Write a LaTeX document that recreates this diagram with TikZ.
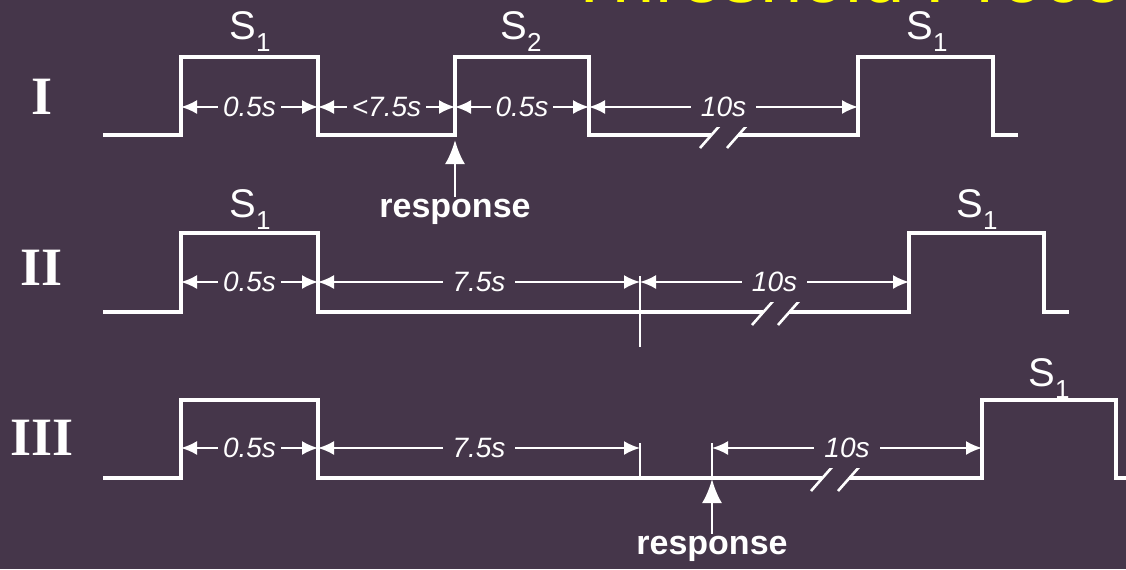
\documentclass[tikz,border=0pt]{standalone}
\usepackage{fontspec}
\setmainfont{Liberation Serif}
\setsansfont{Liberation Sans}
\usetikzlibrary{arrows.meta}

\definecolor{bgpurple}{RGB}{69,54,74}
\definecolor{titleyellow}{RGB}{255,255,0}

\newcommand{\stim}[1]{S\raisebox{-0.3em}{\fontsize{13}{13}\selectfont #1}}

\tikzset{
  wave/.style={draw=white, line width=1.6pt, line join=miter},
  dim/.style={draw=white, line width=1pt, {Latex[length=8pt,width=7pt]}-{Latex[length=8pt,width=7pt]}},
  dimlabel/.style={fill=bgpurple, text=white, inner sep=2.5pt, font=\sffamily\itshape\fontsize{14}{14}\selectfont},
  stimlabel/.style={text=white, inner sep=0pt, anchor=base west, font=\sffamily\fontsize{20}{20}\selectfont},
  rowlabel/.style={text=white, inner sep=0pt, font=\bfseries\fontsize{27}{27}\selectfont},
  resp/.style={draw=white, line width=1.3pt, -{Latex[length=12pt,width=10pt]}},
  resplabel/.style={text=white, inner sep=1pt, font=\sffamily\bfseries\fontsize{17}{17}\selectfont},
  brk/.style={draw=white, line width=1.3pt},
  tickline/.style={draw=white, line width=1pt},
}

\begin{document}
\begin{tikzpicture}[x=0.5pt, y=-0.5pt]

    % Background and cut-off title
    \fill[bgpurple] (0,0) rectangle (1126,569);
    \useasboundingbox (0,0) rectangle (1126,569);
    \begin{scope}
        \clip (0,0) rectangle (1126,569);
        \node[anchor=base west, inner sep=0pt, text=titleyellow,
              font=\sffamily\fontsize{38}{38}\selectfont] (title) at (566,2) {Threshold Procedure};
    \end{scope}

    % Row labels
    \node[rowlabel] (rowI) at (42,97) {I};
    \node[rowlabel] (rowII) at (42,268) {II};
    \node[rowlabel] (rowIII) at (42,438) {III};

    % Row I: pulses
    \draw[wave] (103,135) -- (181,135) -- (181,57) -- (318,57) -- (318,135)
        -- (455,135) -- (455,57) -- (589,57) -- (589,135) -- (711,135);
    \draw[wave] (738,135) -- (858,135) -- (858,57) -- (993,57) -- (993,135) -- (1018,135);
    \draw[brk] (700,148) -- (722,123);
    \draw[brk] (727,148) -- (749,123);

    \node[stimlabel] (s1a) at (229,39) {\stim{1}};
    \node[stimlabel] (s2a) at (500,39) {\stim{2}};
    \node[stimlabel] (s1b) at (906,39) {\stim{1}};

    \coordinate (a0) at (181,107);
    \coordinate (a1) at (318,107);
    \coordinate (a2) at (455,107);
    \coordinate (a3) at (589,107);
    \coordinate (a4) at (858,107);
    \draw[dim] (a0) -- (a1) node[midway, dimlabel] (da1) {0.5s};
    \draw[dim] (a1) -- (a2) node[midway, dimlabel] (da2) {<7.5s};
    \draw[dim] (a2) -- (a3) node[midway, dimlabel] (da3) {0.5s};
    \draw[dim] (a3) -- (a4) node[midway, dimlabel, inner sep=5pt] (da4) {10s};

    \coordinate (r1tip) at (455,140);
    \node[resplabel] (resp1) at (455,212) {response};
    \draw[resp] (resp1) -- (r1tip);

    % Row II: pulses
    \draw[wave] (103,312) -- (181,312) -- (181,233) -- (318,233) -- (318,312) -- (763,312);
    \draw[wave] (789,312) -- (909,312) -- (909,233) -- (1044,233) -- (1044,312) -- (1069,312);
    \draw[brk] (752,325) -- (774,300);
    \draw[brk] (778,325) -- (800,300);

    \node[stimlabel] (s1c) at (229,217) {\stim{1}};
    \node[stimlabel] (s1d) at (956,217) {\stim{1}};

    \coordinate (b0) at (181,282);
    \coordinate (b1) at (318,282);
    \coordinate (b2) at (640,282);
    \coordinate (b3) at (909,282);
    \coordinate (b2low) at (640,347);
    \draw[tickline] (640,276) -- (b2low);
    \draw[dim] (b0) -- (b1) node[midway, dimlabel] (db1) {0.5s};
    \draw[dim] (b1) -- (b2) node[midway, dimlabel, inner sep=5pt] (db2) {7.5s};
    \draw[dim] (b2) -- (b3) node[midway, dimlabel, inner sep=5pt] (db3) {10s};

    % Row III: pulses
    \draw[wave] (103,478) -- (181,478) -- (181,400) -- (318,400) -- (318,478) -- (822,478);
    \draw[wave] (849,478) -- (982,478) -- (982,400) -- (1116,400) -- (1116,478) -- (1130,478);
    \draw[brk] (811,491) -- (833,466);
    \draw[brk] (838,491) -- (860,466);

    \node[stimlabel] (s1e) at (1028,386) {\stim{1}};

    \coordinate (c0) at (181,448);
    \coordinate (c1) at (318,448);
    \coordinate (c2) at (640,448);
    \coordinate (c3) at (712,448);
    \coordinate (c4) at (982,448);
    \draw[tickline] (640,443) -- (640,478);
    \draw[tickline] (712,443) -- (712,478);
    \draw[dim] (c0) -- (c1) node[midway, dimlabel] (dc1) {0.5s};
    \draw[dim] (c1) -- (c2) node[midway, dimlabel, inner sep=5pt] (dc2) {7.5s};
    \draw[dim] (c3) -- (c4) node[midway, dimlabel, inner sep=5pt] (dc3) {10s};

    \coordinate (r2tip) at (712,479);
    \node[resplabel] (resp2) at (712,549) {response};
    \draw[resp] (resp2) -- (r2tip);

\end{tikzpicture}
\end{document}
